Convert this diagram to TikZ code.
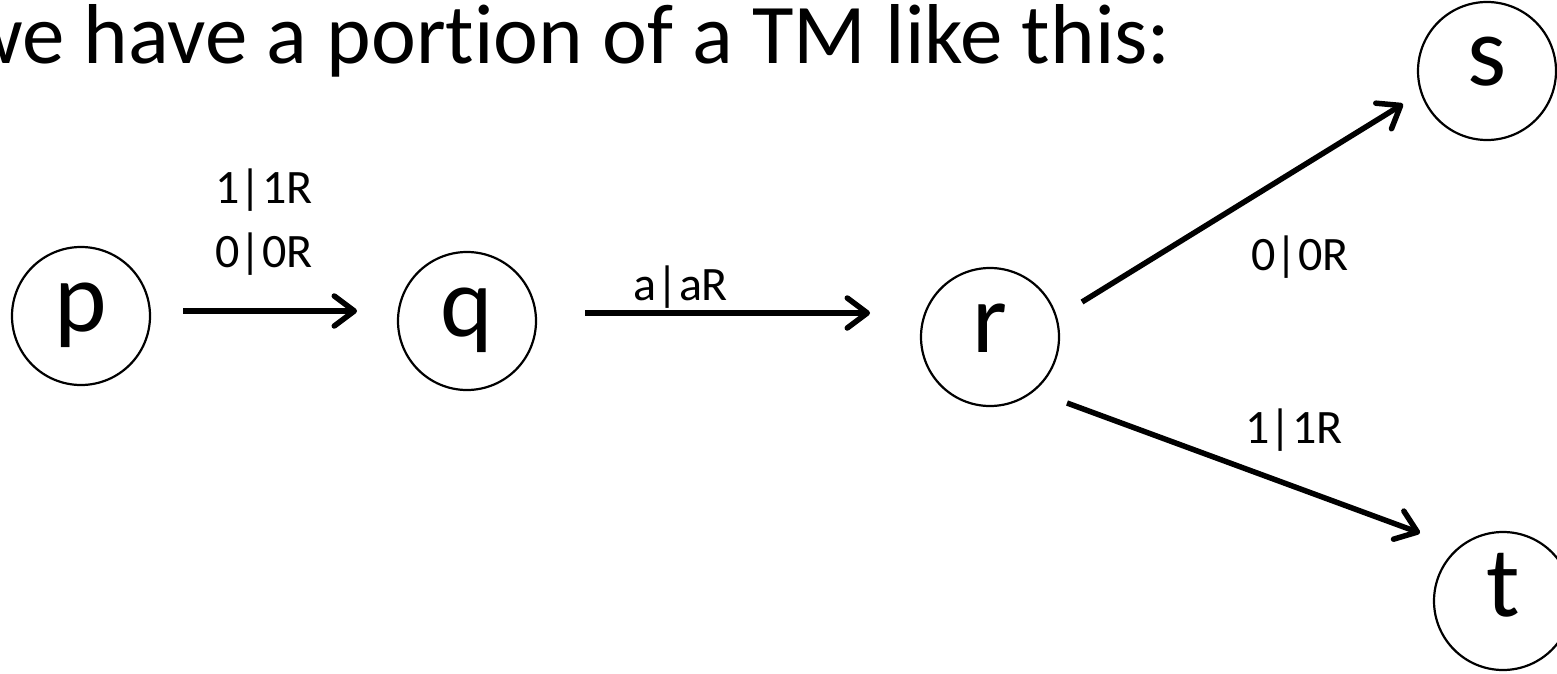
\documentclass[tikz,border=0pt]{standalone}
\usepackage{fontspec}
\setmainfont{Carlito}[Ligatures={NoCommon}]
\usetikzlibrary{arrows.meta}
\begin{document}
\begin{tikzpicture}[x=1pt,y=-1pt,
  stat/.style={draw,circle,line width=2.2pt,minimum size=138pt,inner sep=0pt,
    font=\fontsize{100}{100}\selectfont,text height=50pt,text depth=20pt},
  arr/.style={line width=5.5pt,-{Straight Barb[length=20pt,width=30pt,line cap=round,line join=round]}},
  lab/.style={font=\fontsize{48}{48}\selectfont,anchor=base,inner sep=0pt}]
\useasboundingbox (0,0) rectangle (1557,674);
\node[anchor=base west,inner sep=0pt,font=\fontsize{85}{85}\selectfont] (title) at (-38,64) {we have a portion of a TM like this:};
\node[stat] (p) at (81,316) {p};
\node[stat] (q) at (467,321) {q};
\node[stat] (r) at (990,337) {r};
\node[stat] (s) at (1487,71) {s};
\node[stat] (t) at (1503,601) {t};
\coordinate (pq1) at (183,311); \coordinate (pq2) at (357,311);
\coordinate (qr1) at (585,313); \coordinate (qr2) at (870,313);
\coordinate (rs1) at (1082,302); \coordinate (rs2) at (1403,104);
\coordinate (rt1) at (1067,403); \coordinate (rt2) at (1420,533);
\draw[arr] (pq1) -- (pq2);
\draw[arr] (qr1) -- (qr2);
\draw[arr] (rs1) -- (rs2);
\draw[arr] (rt1) -- (rt2);
\node[lab] (l1) at (264,203) {1|1R};
\node[lab] (l2) at (264,267) {0|0R};
\node[lab] (l3) at (681,300) {a|aR};
\node[lab] (l4) at (1300,270) {0|0R};
\node[lab] (l5) at (1294,443) {1|1R};
\end{tikzpicture}
\end{document}
